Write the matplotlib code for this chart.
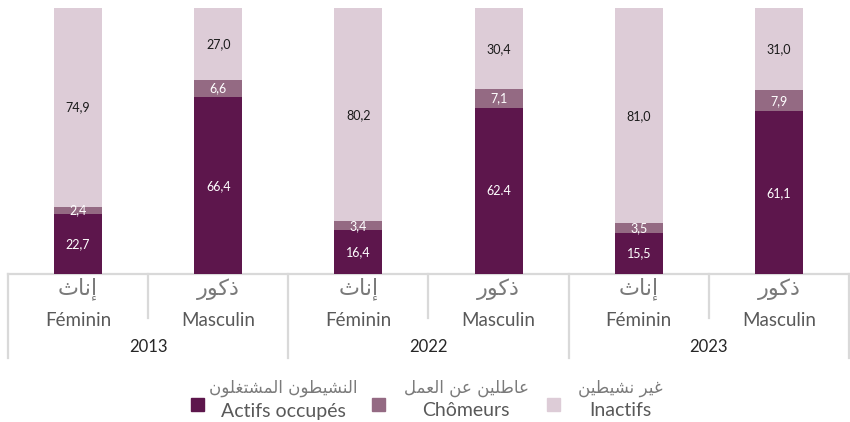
import matplotlib
matplotlib.use("Agg")
import matplotlib.pyplot as plt
from matplotlib.patches import Rectangle
import matplotlib.transforms as mtransforms

# ---- data -------------------------------------------------------------
years = ["2013", "2022", "2023"]
sex_fr = ["Féminin", "Masculin"]
# Arabic labels written in shaped presentation forms, left-to-right visual order
sex_ar = ["\uFE99\uFE8E\uFEE7\uFE87",          # إناث
          "\uFEAD\uFEEE\uFEDB\uFEAB"]          # ذكور

actifs_occupes = [22.7, 66.4, 16.4, 62.4, 15.5, 61.1]
chomeurs = [2.4, 6.6, 3.4, 7.1, 3.5, 7.9]
inactifs = [74.9, 27.0, 80.2, 30.4, 81.0, 31.0]
# label text as printed on the bars
lbl_occupes = ["22,7", "66,4", "16,4", "62.4", "15,5", "61,1"]
lbl_chomeurs = ["2,4", "6,6", "3,4", "7,1", "3,5", "7,9"]
lbl_inactifs = ["74,9", "27,0", "80,2", "30,4", "81,0", "31,0"]

series_fr = ["Actifs occupés", "Chômeurs", "Inactifs"]
series_ar = [
    # النشيطون المشتغلون
    "\uFEE5\uFEEE\uFEE0\uFED0\uFE98\uFEB8\uFEE4\uFEDF\uFE8D "
    "\uFEE5\uFEEE\uFEC4\uFEF4\uFEB8\uFEE8\uFEDF\uFE8D",
    # عاطلين عن العمل
    "\uFEDE\uFEE4\uFECC\uFEDF\uFE8D \uFEE6\uFECB "
    "\uFEE6\uFEF4\uFEE0\uFEC3\uFE8E\uFECB",
    # غير نشيطين
    "\uFEE6\uFEF4\uFEC4\uFEF4\uFEB8\uFEE7 \uFEAE\uFEF4\uFECF",
]
colors = ["#5D164C", "#946A83", "#DDCCD7"]

# ---- figure -----------------------------------------------------------
W, H = 850, 422
fig = plt.figure(figsize=(W / 100, H / 100), dpi=100)
px_l, px_r, px_t, px_b = 8, 849, 8, 274
ax = fig.add_axes([px_l / W, 1 - px_b / H, (px_r - px_l) / W, (px_b - px_t) / H])
ax.set_xlim(-0.5, 5.5)
ax.set_ylim(0, 100)
ax.axis("off")

latin = ["Lato", "DejaVu Sans"]
arab = ["DejaVu Sans"]
grey = "#595959"
ar_grey = "#7a7a7a"
line_c = "#D9D9D9"

n = len(actifs_occupes)
x = list(range(n))
bw = 0.342
bottom2 = [a for a in actifs_occupes]
bottom3 = [a + c for a, c in zip(actifs_occupes, chomeurs)]
ax.bar(x, actifs_occupes, bw, color=colors[0], zorder=2)
ax.bar(x, chomeurs, bw, bottom=bottom2, color=colors[1], zorder=2)
ax.bar(x, inactifs, bw, bottom=bottom3, color=colors[2], zorder=2)

for i in x:
    ax.text(i, actifs_occupes[i] / 2, lbl_occupes[i], ha="center", va="center",
            color="white", fontsize=9, family=latin)
    ax.text(i, bottom2[i] + chomeurs[i] / 2, lbl_chomeurs[i], ha="center",
            va="center", color="white", fontsize=9, family=latin)
    ax.text(i, bottom3[i] + inactifs[i] / 2, lbl_inactifs[i], ha="center",
            va="center", color="#1a1a1a", fontsize=9, family=latin)

# ---- multi-level category axis ---------------------------------------
tr = mtransforms.blended_transform_factory(ax.transData, ax.transAxes)
ah = px_b - px_t


def yfrac(py):
    return (px_b - py) / ah


ax.plot([-0.5, 5.5], [0, 0], color=line_c, lw=1.6, transform=tr,
        clip_on=False, zorder=1)
for k in range(n + 1):
    b = k - 0.5
    end = 358 if k % 2 == 0 else 318
    ax.plot([b, b], [0, yfrac(end)], color=line_c, lw=1.6, transform=tr,
            clip_on=False, zorder=1)

for i in x:
    ax.text(i, yfrac(289), sex_ar[i % 2], ha="center", va="center",
            fontsize=16, color=ar_grey, family=arab, transform=tr)
    ax.text(i, yfrac(320), sex_fr[i % 2], ha="center", va="center",
            fontsize=13.5, color=grey, family=latin, transform=tr)
for g, yr in enumerate(years):
    ax.text(2 * g + 0.5, yfrac(347), yr, ha="center", va="center",
            fontsize=12, color="#262626", family=latin, transform=tr)

# ---- legend -----------------------------------------------------------
sq_x = [197, 378, 553]
txt_x = [283, 466, 620]
sq = 13
for k in range(3):
    fig.add_artist(Rectangle(((sq_x[k] - sq / 2) / W, 1 - (404 + sq / 2) / H),
                             sq / W, sq / H, transform=fig.transFigure,
                             color=colors[k]))
    fig.text(txt_x[k] / W, 1 - 388 / H, series_ar[k], ha="center", va="center",
             fontsize=12, color=ar_grey, family=arab)
    fig.text(txt_x[k] / W, 1 - 411 / H, series_fr[k], ha="center", va="center",
             fontsize=14, color=grey, family=latin)

fig.savefig("out.png", dpi=100, facecolor="white")
